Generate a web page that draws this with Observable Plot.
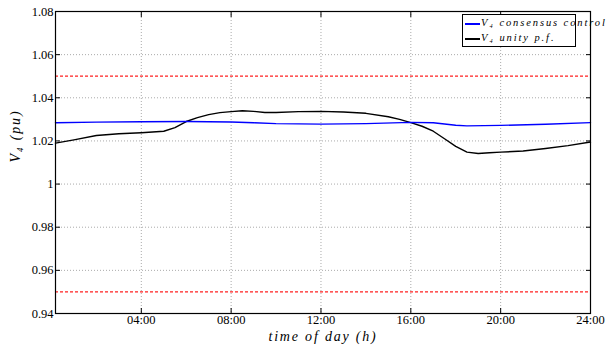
<!DOCTYPE html>
<html><head><meta charset="utf-8">
<script src="https://cdn.jsdelivr.net/npm/d3@7"></script>
<script src="https://cdn.jsdelivr.net/npm/@observablehq/plot@0.6"></script>
<style>
body{margin:0;background:#fff;}
#wrap{position:relative;width:607px;height:345px;}
.legend{position:absolute;left:462px;top:14px;width:112px;height:31px;border:1px solid #000;background:#fff;font-style:italic;font-size:10.5px;letter-spacing:1.9px;white-space:nowrap;color:#000;}
.legend .row{position:absolute;left:2px;height:12px;line-height:12px;}
.legend .sw{display:inline-block;width:15px;height:2px;vertical-align:middle;margin-right:1px;}
</style></head><body><div id="wrap"></div>
<script>
// Data (hours of day, voltage in pu)
const unityHours  = [0.18, 1, 2, 3, 4, 5, 5.5, 6, 6.5, 7, 7.5, 8, 8.5, 9, 9.5, 10, 11, 12, 13, 14, 15, 15.5, 16, 16.5, 17, 17.5, 18, 18.5, 19, 19.5, 20, 21, 22, 23, 24];
const unityValues = [1.0190, 1.0205, 1.0225, 1.0233, 1.0238, 1.0245, 1.0262, 1.0290, 1.0308, 1.0322, 1.0331, 1.0336, 1.0340, 1.0337, 1.0332, 1.0332, 1.0336, 1.0337, 1.0334, 1.0328, 1.0312, 1.0300, 1.0285, 1.0268, 1.0245, 1.0210, 1.0175, 1.0148, 1.0142, 1.0145, 1.0148, 1.0153, 1.0165, 1.0178, 1.0195];
const consensusHours  = [0.18, 2, 4, 6, 8, 9, 10, 12, 14, 16, 17, 18, 18.5, 20, 22, 24];
const consensusValues = [1.0284, 1.0287, 1.0289, 1.0290, 1.0288, 1.0284, 1.0280, 1.0278, 1.0280, 1.0286, 1.0284, 1.0273, 1.0270, 1.0272, 1.0277, 1.0285];
const limitValues = [0.95, 1.05];
const xTicks = [4, 8, 12, 16, 20, 24];
const xTickLabels = ["04:00", "08:00", "12:00", "16:00", "20:00", "24:00"];
const yTicks = [0.94, 0.96, 0.98, 1.00, 1.02, 1.04, 1.06, 1.08];
const yTickLabels = ["0.94", "0.96", "0.98", "1", "1.02", "1.04", "1.06", "1.08"];
const seriesNames = ["V\u2084 consensus control", "V\u2084 unity p.f."];
const seriesColors = ["#0000ff", "#000000"];
const xLabel = "time of day (h)";
const yLabel = "V\u2084 (pu)";

// pick an installed serif font
function pickFont(cands) {
  const ctx = document.createElement("canvas").getContext("2d");
  const s = "0.94 time of day mmmWWiil";
  for (const base of ["monospace", "sans-serif"]) {
    ctx.font = "20px " + base;
    const w0 = ctx.measureText(s).width;
    for (const c of cands) {
      ctx.font = `20px "${c}", ${base}`;
      if (Math.abs(ctx.measureText(s).width - w0) > 0.5) return c;
    }
  }
  return "serif";
}
const FONT = pickFont(["Liberation Serif", "Times New Roman", "Times", "Tinos", "Nimbus Roman", "DejaVu Serif", "Noto Serif", "FreeSerif"]);
const FF = `"${FONT}", serif`;

const unity = unityHours.map((h, i) => ({h, v: unityValues[i]}));
const consensus = consensusHours.map((h, i) => ({h, v: consensusValues[i]}));

const chart = Plot.plot({
  width: 607, height: 345,
  marginLeft: 55, marginRight: 17, marginTop: 11, marginBottom: 32,
  style: {fontSize: "12.5px", background: "white", color: "black", fontFamily: FF},
  x: {domain: [0.18, 24]},
  y: {domain: [0.94, 1.08]},
  marks: [
    Plot.gridX(xTicks, {stroke: "#aaa", strokeOpacity: 1, strokeDasharray: "1,2"}),
    Plot.gridY(yTicks, {stroke: "#aaa", strokeOpacity: 1, strokeDasharray: "1,2"}),
    Plot.ruleY(limitValues, {stroke: "#ff2020", strokeWidth: 1.2, strokeDasharray: "3,2"}),
    Plot.line(unity, {x: "h", y: "v", stroke: seriesColors[1], strokeWidth: 1.4}),
    Plot.line(consensus, {x: "h", y: "v", stroke: seriesColors[0], strokeWidth: 1.4}),
    Plot.frame({stroke: "black", strokeWidth: 1.2}),
    Plot.axisX(xTicks, {anchor: "bottom", tickSize: -5, tickPadding: 7, tickFormat: d => xTickLabels[xTicks.indexOf(d)], label: null}),
    Plot.axisX(xTicks, {anchor: "top", tickSize: -5, tickFormat: () => "", label: null}),
    Plot.axisY(yTicks, {anchor: "left", tickSize: -5, tickPadding: 7, tickFormat: d => yTickLabels[yTicks.indexOf(d)], label: null}),
    Plot.axisY(yTicks, {anchor: "right", tickSize: -5, tickFormat: () => "", label: null}),
    Plot.text([xLabel], {frameAnchor: "bottom", dy: 23, lineAnchor: "middle", fontStyle: "italic", fontSize: 14}),
    Plot.text([yLabel], {frameAnchor: "left", dx: -40, rotate: -90, lineAnchor: "middle", fontStyle: "italic", fontSize: 14})
  ]
});
d3.select(chart).selectAll("text").style("font-family", FF);
d3.select(chart).selectAll("text").filter(function(){ return this.textContent === xLabel || this.textContent === yLabel; })
  .style("letter-spacing", "1.8px");

const wrap = document.getElementById("wrap");
wrap.appendChild(chart);
const legend = document.createElement("div");
legend.className = "legend";
legend.style.fontFamily = FF;
seriesNames.forEach((name, i) => {
  const row = document.createElement("div");
  row.className = "row";
  row.style.top = (2 + i * 15) + "px";
  const sw = document.createElement("span");
  sw.className = "sw";
  sw.style.background = seriesColors[i];
  row.appendChild(sw);
  row.appendChild(document.createTextNode(name));
  legend.appendChild(row);
});
wrap.appendChild(legend);
</script>
</body></html>
